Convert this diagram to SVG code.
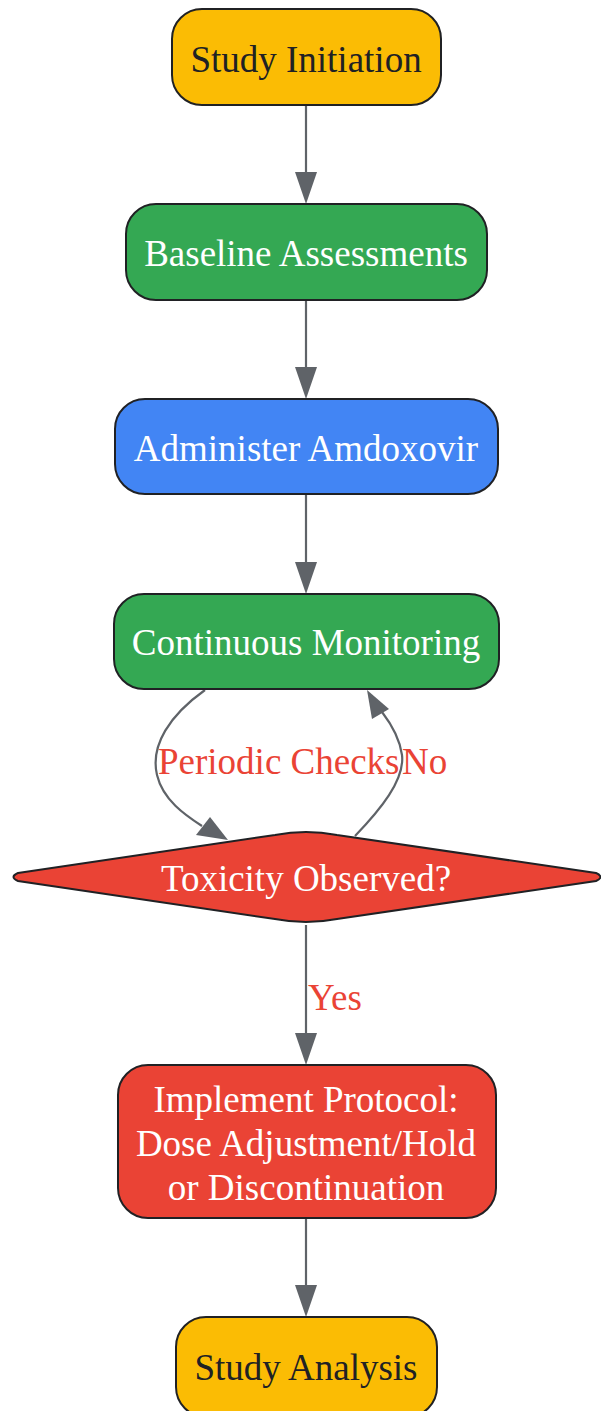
<svg xmlns="http://www.w3.org/2000/svg" width="601" height="1411" viewBox="0 0 601 1411">
<defs>
<style>
.n{stroke:#202124;stroke-width:2}
.t{font-family:"Liberation Serif","Times New Roman",serif;font-size:37px;text-anchor:middle}
.w{fill:#ffffff}
.d{fill:#202124}
.e{fill:none;stroke:#5f6368;stroke-width:2.2}
.a{fill:#5f6368}
.l{font-family:"Liberation Serif","Times New Roman",serif;font-size:37px;fill:#ea4335}
</style>
</defs>
<rect width="601" height="1411" fill="#ffffff"/>
<g id="edges">
<path class="e" d="M306,105 L306,172"/>
<path class="a" d="M295,172 L317,172 L306,204 Z"/>
<path class="e" d="M306,300 L306,367"/>
<path class="a" d="M295,367 L317,367 L306,399 Z"/>
<path class="e" d="M306,494 L306,562"/>
<path class="a" d="M295,562 L317,562 L306,594 Z"/>
<path class="e" d="M205,690 C170,715 150,745 157,775 C163,800 185,815 202,826"/>
<path class="a" d="M196,835 L210,817 L228,840 Z"/>
<path class="e" d="M355,836 C380,810 405,780 402,755 C400,740 392,725 382,712"/>
<path class="a" d="M372,719 L389,709 L367,690 Z"/>
<path class="e" d="M306,925 L306,1033"/>
<path class="a" d="M295,1033 L317,1033 L306,1065 Z"/>
<path class="e" d="M306,1218 L306,1285"/>
<path class="a" d="M295,1285 L317,1285 L306,1317 Z"/>
<text class="l" x="158" y="774">Periodic Checks</text>
<text class="l" x="402" y="774">No</text>
<text class="l" x="308" y="1010">Yes</text>
</g>
<g id="study-initiation">
<rect class="n" x="172" y="9" width="269" height="96" rx="30" fill="#fbbc04"/>
<text class="t d" x="306" y="72">Study Initiation</text>
</g>
<g id="baseline">
<rect class="n" x="126" y="204" width="361" height="96" rx="30" fill="#34a853"/>
<text class="t w" x="306" y="266">Baseline Assessments</text>
</g>
<g id="administer">
<rect class="n" x="115" y="399" width="383" height="95" rx="30" fill="#4285f4"/>
<text class="t w" x="306" y="461">Administer Amdoxovir</text>
</g>
<g id="monitoring">
<rect class="n" x="114" y="594" width="385" height="95" rx="30" fill="#34a853"/>
<text class="t w" x="306" y="655">Continuous Monitoring</text>
</g>
<g id="toxicity">
<path class="n" fill="#ea4335" d="M18,873 L275,835 Q306,829 337,835 L596,873 Q605,877 596,881 L337,919 Q306,925 275,919 L18,881 Q9,877 18,873 Z"/>
<text class="t w" x="306" y="891">Toxicity Observed?</text>
</g>
<g id="protocol">
<rect class="n" x="118" y="1065" width="378" height="153" rx="30" fill="#ea4335"/>
<text class="t w" x="306" y="1112">Implement Protocol:</text>
<text class="t w" x="306" y="1156">Dose Adjustment/Hold</text>
<text class="t w" x="306" y="1200">or Discontinuation</text>
</g>
<g id="study-analysis">
<rect class="n" x="176" y="1317" width="261" height="100" rx="30" fill="#fbbc04"/>
<text class="t d" x="306" y="1380">Study Analysis</text>
</g>
</svg>
